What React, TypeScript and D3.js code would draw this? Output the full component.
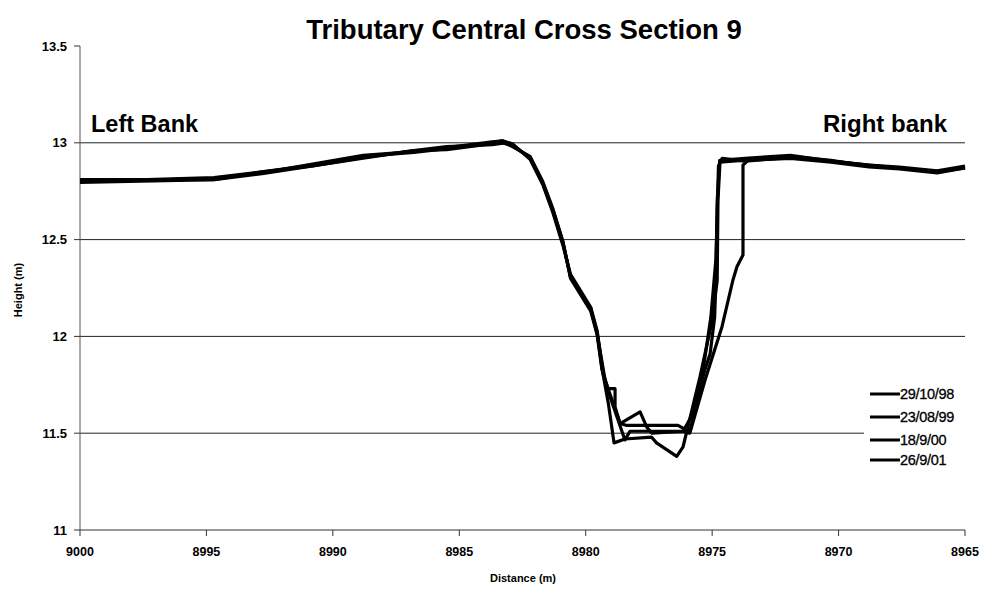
import React from "react";
import * as d3 from "d3";

const xTicks = [9000, 8995, 8990, 8985, 8980, 8975, 8970, 8965];
const yTicks = [11, 11.5, 12, 12.5, 13, 13.5];
const gridValues = [11.5, 12, 12.5, 13];
const seriesNames = ["29/10/98", "23/08/99", "18/9/00", "26/9/01"];

const s1Dist = [9000, 8994.7, 8992.8, 8990.8, 8988.8, 8986.8, 8985.5, 8983.7, 8983.3, 8982.9, 8982.2, 8981.7, 8981.3, 8980.9, 8980.6, 8979.8, 8979.55, 8979.35, 8979.1, 8978.88, 8978.45, 8977.4, 8977.2, 8976.4, 8976.15, 8975.5, 8975.0, 8974.8, 8974.77, 8974.69, 8973.7, 8971.9, 8970.3, 8968.8, 8967.6, 8966.1, 8965];
const s1Height = [12.8, 12.82, 12.85, 12.885, 12.93, 12.95, 12.97, 13.0, 13.01, 12.99, 12.92, 12.79, 12.65, 12.48, 12.31, 12.14, 12.02, 11.83, 11.65, 11.45, 11.47, 11.48, 11.45, 11.38, 11.43, 11.78, 12.08, 12.29, 12.7, 12.9, 12.91, 12.93, 12.91, 12.88, 12.87, 12.85, 12.875];

const s2Dist = [9000, 8994.7, 8992.8, 8990.8, 8988.8, 8986.8, 8985.5, 8983.7, 8983.2, 8982.9, 8982.2, 8981.7, 8981.3, 8980.9, 8980.6, 8979.8, 8979.55, 8979.36, 8979.12, 8978.84, 8978.84, 8978.64, 8978.37, 8976.35, 8975.87, 8975.28, 8974.61, 8974.18, 8974.02, 8973.78, 8973.78, 8973.58, 8971.9, 8970.3, 8968.8, 8967.6, 8966.1, 8965];
const s2Height = [12.81, 12.81, 12.84, 12.88, 12.92, 12.96, 12.98, 12.99, 13.0, 12.98, 12.93, 12.8, 12.66, 12.49, 12.3, 12.13, 12.01, 11.83, 11.73, 11.73, 11.635, 11.55, 11.54, 11.54, 11.506, 11.775, 12.05, 12.29, 12.36, 12.42, 12.885, 12.91, 12.92, 12.9, 12.875, 12.865, 12.845, 12.87];

const s3Dist = [9000, 8994.7, 8992.8, 8990.8, 8988.8, 8986.8, 8985.5, 8983.7, 8983.3, 8982.9, 8982.2, 8981.7, 8981.3, 8980.9, 8980.6, 8979.8, 8979.55, 8979.3, 8978.64, 8977.85, 8977.58, 8977.38, 8976.15, 8975.76, 8975.28, 8975.08, 8974.9, 8974.85, 8974.8, 8974.7, 8973.7, 8971.9, 8970.3, 8968.8, 8967.6, 8966.1, 8965];
const s3Height = [12.8, 12.815, 12.845, 12.89, 12.935, 12.955, 12.975, 13.005, 13.01, 12.995, 12.915, 12.785, 12.64, 12.47, 12.32, 12.15, 12.03, 11.8, 11.55, 11.61, 11.53, 11.5, 11.51, 11.6, 11.83, 11.91, 12.1, 12.3, 12.7, 12.91, 12.92, 12.935, 12.905, 12.885, 12.875, 12.855, 12.88];

const s4Dist = [9000, 8994.7, 8992.8, 8990.8, 8988.8, 8986.8, 8985.5, 8983.7, 8983.3, 8982.9, 8982.2, 8981.7, 8981.3, 8980.9, 8980.6, 8979.8, 8979.55, 8979.2, 8978.45, 8978.25, 8976.15, 8975.9, 8975.5, 8975.05, 8974.85, 8974.75, 8974.6, 8973.7, 8971.9, 8970.3, 8968.8, 8967.6, 8966.1, 8965];
const s4Height = [12.795, 12.81, 12.85, 12.88, 12.925, 12.96, 12.965, 12.995, 13.0, 12.985, 12.925, 12.795, 12.655, 12.485, 12.305, 12.145, 12.015, 11.75, 11.465, 11.51, 11.51, 11.5, 11.7, 12.1, 12.4, 12.88, 12.92, 12.905, 12.925, 12.905, 12.885, 12.87, 12.85, 12.87];

const seriesDist = [s1Dist, s2Dist, s3Dist, s4Dist];
const seriesHeight = [s1Height, s2Height, s3Height, s4Height];

const W = 985;
const H = 589;
const M = { left: 80, right: 965, top: 46, bottom: 530 };
const FONT = "'Liberation Sans', Arial, Helvetica, sans-serif";

export default function App() {
  const x = d3.scaleLinear().domain([9000, 8965]).range([M.left, M.right]);
  const y = d3.scaleLinear().domain([11, 13.5]).range([M.bottom, M.top]);
  const line = d3
    .line<[number, number]>()
    .x((d) => x(d[0]))
    .y((d) => y(d[1]));

  const legendY = [394, 417, 440, 460];

  return (
    <svg width={W} height={H} style={{ position: "absolute", left: 0, top: 0, background: "#fff" }}>
      <rect x={0} y={0} width={W} height={H} fill="#fff" />
      <text x={524} y={39} textAnchor="middle" fontFamily={FONT} fontWeight="bold" fontSize={27.5} fill="#000">
        Tributary Central Cross Section 9
      </text>
      {gridValues.map((v) => (
        <line key={v} x1={M.left} x2={M.right} y1={y(v)} y2={y(v)} stroke="#222" strokeWidth={1} />
      ))}
      <line x1={M.left} x2={M.left} y1={M.top} y2={M.bottom} stroke="#555" strokeWidth={1} />
      <line x1={M.left} x2={M.right} y1={M.bottom} y2={M.bottom} stroke="#333" strokeWidth={1} />
      {yTicks.map((v) => (
        <g key={v}>
          <line x1={M.left - 6} x2={M.left} y1={y(v)} y2={y(v)} stroke="#333" />
          <text x={67} y={y(v) + 4.5} textAnchor="end" fontFamily={FONT} fontWeight="bold" fontSize={13} fill="#000">
            {v}
          </text>
        </g>
      ))}
      {xTicks.map((v) => (
        <g key={v}>
          <line x1={x(v)} x2={x(v)} y1={M.bottom} y2={M.bottom + 6} stroke="#333" />
          <text x={x(v)} y={556} textAnchor="middle" fontFamily={FONT} fontWeight="bold" fontSize={12.5} fill="#000">
            {v}
          </text>
        </g>
      ))}
      <text x={523} y={582} textAnchor="middle" fontFamily={FONT} fontWeight="bold" fontSize={11} fill="#000">
        Distance (m)
      </text>
      <text
        transform="translate(22,290) rotate(-90)"
        textAnchor="middle"
        fontFamily={FONT}
        fontWeight="bold"
        fontSize={11}
        fill="#000"
      >
        Height (m)
      </text>
      <text x={91} y={132} fontFamily={FONT} fontWeight="bold" fontSize={23.5} fill="#000">
        Left Bank
      </text>
      <text x={947} y={132} textAnchor="end" fontFamily={FONT} fontWeight="bold" fontSize={24} fill="#000">
        Right bank
      </text>
      <rect x={864} y={380} width={110} height={92} fill="#fff" />
      {seriesDist.map((dist, i) => {
        const pts = dist.map((d, j) => [d, seriesHeight[i][j]] as [number, number]);
        return (
          <path
            key={i}
            d={line(pts) || ""}
            fill="none"
            stroke="#000"
            strokeWidth={3.2}
            strokeLinejoin="round"
          />
        );
      })}
      {seriesNames.map((n, i) => (
        <g key={n}>
          <line x1={870} x2={900} y1={legendY[i]} y2={legendY[i]} stroke="#000" strokeWidth={3} />
          <text x={900} y={legendY[i] + 5} fontFamily={FONT} fontSize={14.5} fill="#000" letterSpacing={-0.3} stroke="#000" strokeWidth={0.3}>
            {n}
          </text>
        </g>
      ))}
    </svg>
  );
}
